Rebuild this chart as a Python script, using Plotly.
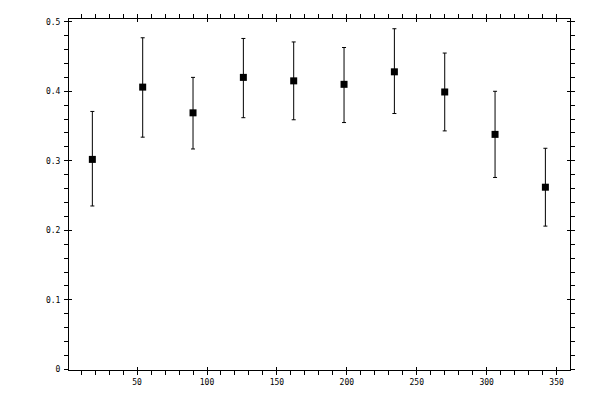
import plotly.graph_objects as go

# bin centres and measured values with asymmetric errors
angle = [18, 54, 90, 126, 162, 198, 234, 270, 306, 342]
value = [0.302, 0.406, 0.369, 0.420, 0.415, 0.410, 0.428, 0.399, 0.338, 0.262]
err_up = [0.069, 0.071, 0.051, 0.056, 0.056, 0.053, 0.062, 0.056, 0.062, 0.056]
err_down = [0.067, 0.072, 0.052, 0.058, 0.056, 0.055, 0.060, 0.056, 0.062, 0.056]

x_range = [1.3, 359.6]
y_range = [-0.001, 0.504]
tick_font = dict(family="DejaVu Sans Mono", size=8, color="black")

fig = go.Figure()

fig.add_trace(go.Scatter(
    x=angle, y=value,
    mode="markers",
    marker=dict(symbol="square", size=7, color="black"),
    error_y=dict(type="data", symmetric=False, array=err_up, arrayminus=err_down,
                 color="black", thickness=1, width=2),
    showlegend=False,
))

# invisible trace so the overlay axes (inner half of major ticks) get drawn
fig.add_trace(go.Scatter(
    x=angle, y=value, xaxis="x2", yaxis="y2",
    mode="markers", marker=dict(opacity=0),
    hoverinfo="skip", showlegend=False,
))

axis_common = dict(showgrid=False, zeroline=False, tickcolor="black", tickwidth=1, automargin=False)

# page body has an 8px margin, so the margins are shifted by that much
fig.update_layout(
    width=600, height=400,
    margin=dict(l=61, r=38, t=11, b=38),
    paper_bgcolor="white", plot_bgcolor="white",
    xaxis=dict(
        range=x_range, tick0=0, dtick=50,
        ticks="outside", ticklen=4, mirror="ticks",
        showline=True, linecolor="black", linewidth=1,
        tickfont=tick_font,
        minor=dict(dtick=10, tick0=0, ticks="outside", ticklen=4, tickcolor="black", showgrid=False),
        **axis_common,
    ),
    yaxis=dict(
        range=y_range, tick0=0, dtick=0.1,
        ticks="outside", ticklen=4, mirror="ticks",
        showline=True, linecolor="black", linewidth=1,
        tickfont=tick_font, ticklabelstandoff=2,
        minor=dict(dtick=0.02, tick0=0, ticks="outside", ticklen=4, tickcolor="black", showgrid=False),
        **axis_common,
    ),
    xaxis2=dict(
        overlaying="x", anchor="y2", range=x_range, tick0=0, dtick=50,
        ticks="inside", ticklen=3, mirror="ticks", showticklabels=False,
        **axis_common,
    ),
    yaxis2=dict(
        overlaying="y", anchor="x2", range=y_range, tick0=0, dtick=0.1,
        ticks="inside", ticklen=3, mirror="ticks", showticklabels=False,
        **axis_common,
    ),
)

fig.write_html("out.html")
